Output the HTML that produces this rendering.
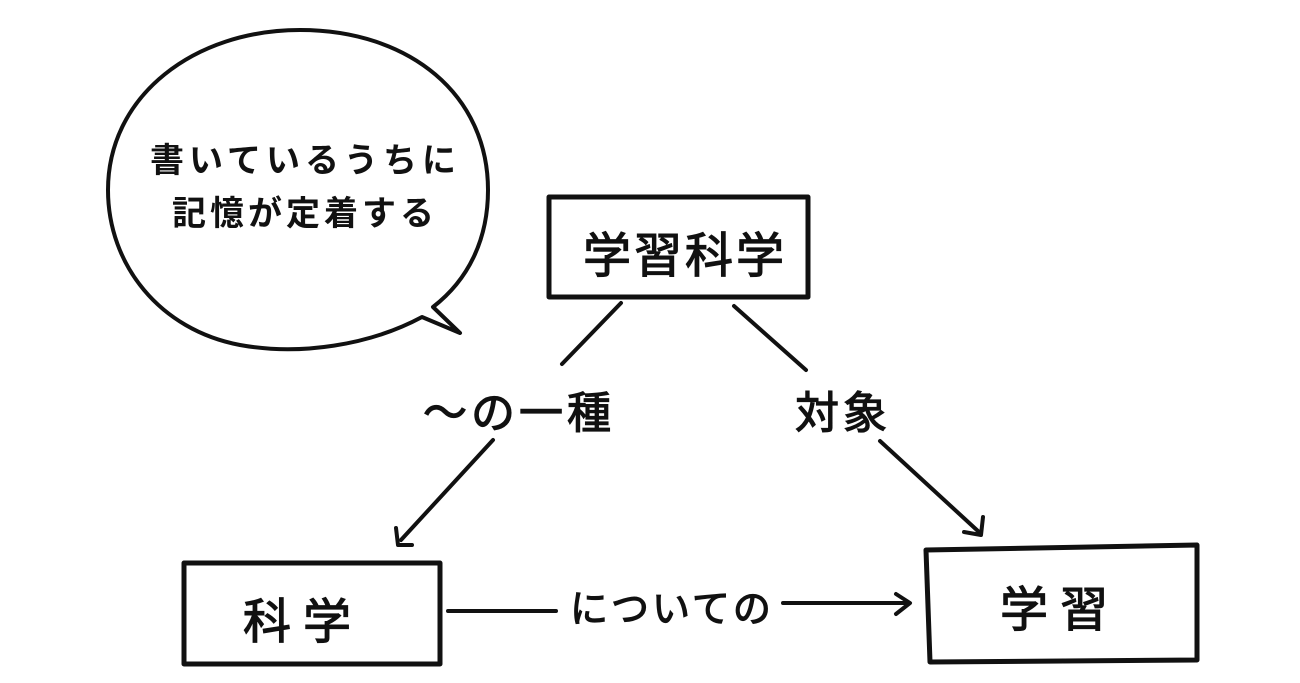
<!DOCTYPE html>
<html><head><meta charset="utf-8"><style>
html,body{margin:0;padding:0;background:#fff;width:1300px;height:683px;overflow:hidden}
svg{display:block}
text{font-family:"Liberation Sans","Noto Sans CJK JP",sans-serif;fill:#111}
.b{font-weight:bold}
</style></head><body>
<svg width="1300" height="683" viewBox="0 0 1300 683" xmlns="http://www.w3.org/2000/svg">
<g fill="none" stroke="#111" stroke-width="4" stroke-linecap="round" stroke-linejoin="round">
<path d="M422,317 C370,345 300,356 240,345 C160,330 108,265 108,190 C108,95 195,30 300,30 C410,30 488,95 488,190 C488,240 468,280 433,307 L460,333 Z" fill="#fff"/>
<rect x="549" y="197" width="259" height="100" stroke-width="5"/>
<rect x="184" y="563" width="256" height="101" stroke-width="5"/>
<path d="M926,550 L1197,545 L1197,660 L930,662 Z" stroke-width="5"/>
<line x1="621" y1="303" x2="562" y2="364"/>
<line x1="493" y1="440" x2="401" y2="540"/>
<path d="M396,528 L398,545 L412,545"/>
<line x1="734" y1="306" x2="806" y2="370"/>
<line x1="880" y1="441" x2="979" y2="532"/>
<path d="M983,517 L981,535 L964,532"/>
<line x1="448" y1="611" x2="556" y2="611"/>
<line x1="783" y1="603" x2="907" y2="603"/>
<path d="M896,594 L910,603 L896,614"/>
</g>
<text class="b" x="150" y="172" font-size="34" letter-spacing="5">書いているうちに</text>
<text class="b" x="172" y="225" font-size="34" letter-spacing="4">記憶が定着する</text>
<g stroke="#111" stroke-width="1.2">
<text x="583" y="272" font-size="48" letter-spacing="3">学習科学</text>
<text x="243" y="638" font-size="48" letter-spacing="12">科学</text>
<text x="1000" y="626" font-size="48" letter-spacing="12">学習</text>
<text x="423" y="428" font-size="44" letter-spacing="4">〜の一種</text>
<text x="795" y="428" font-size="44" letter-spacing="4">対象</text>
<text x="570" y="622" font-size="38" letter-spacing="3">についての</text>
</g>
</svg>
</body></html>
